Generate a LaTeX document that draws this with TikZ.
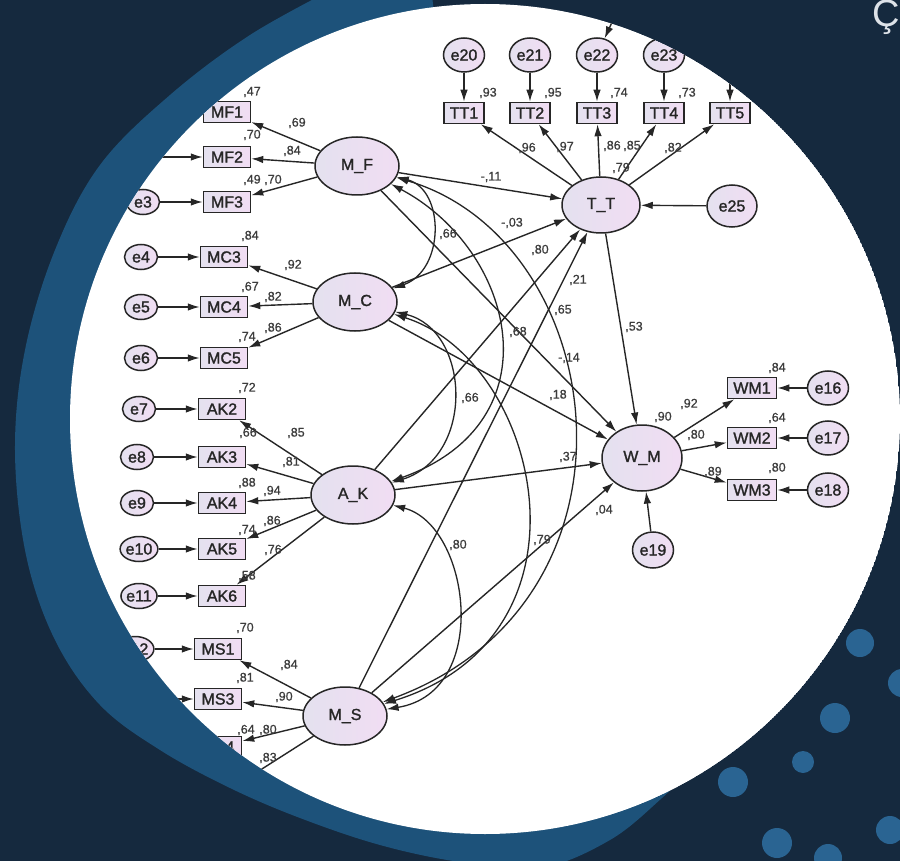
\documentclass[tikz,border=0pt]{standalone}
\usepackage{fontspec}
\setmainfont{Liberation Sans}
\newfontfamily\nodefont{Liberation Sans}[FakeBold=1.5]
\newfontfamily\numfont{Liberation Sans}[FakeBold=0.8]
\usetikzlibrary{shapes.geometric,arrows.meta}
\definecolor{navy}{HTML}{15293E}
\definecolor{cres}{HTML}{1D527A}
\definecolor{dotc}{HTML}{2A6492}
\definecolor{ink}{HTML}{262626}
\definecolor{numc}{HTML}{3C3C3C}
\definecolor{lavA}{HTML}{E4E1EF}
\definecolor{lavB}{HTML}{F1DDF3}
\definecolor{cedc}{HTML}{DDE2E8}
\tikzset{
 obs/.style={rectangle, draw=ink, line width=1.5pt, minimum width=47pt, minimum height=21pt, inner sep=0pt, left color=lavA, right color=lavB, text=ink, font=\nodefont\fontsize{16}{16}\selectfont},
 lat/.style={ellipse, draw=ink, line width=1.5pt, minimum width=84pt, minimum height=58pt, inner sep=0pt, left color=lavA, right color=lavB, text=ink, font=\nodefont\fontsize{16}{16}\selectfont},
 err/.style={ellipse, draw=ink, line width=1.5pt, minimum width=41pt, minimum height=34pt, inner sep=0pt, left color=lavA, right color=lavB, text=ink, font=\nodefont\fontsize{16}{16}\selectfont},
 errs/.style={err, minimum width=33pt, minimum height=25pt},
 num/.style={text=numc, font=\numfont\fontsize{12.5}{13}\selectfont, inner sep=0pt},
 arr/.style={draw=ink, line width=1.4pt, -{Latex[length=12pt,width=7.5pt]}},
 cov/.style={draw=ink, line width=1.3pt, {Latex[length=12pt,width=7.5pt]}-{Latex[length=12pt,width=7.5pt]}},
 dot/.style={fill=dotc}
}
\begin{document}
\begin{tikzpicture}[x=1pt,y=-1pt]
\useasboundingbox (0,0) rectangle (900,861);
\fill[navy] (0,0) rectangle (900,861);
% blue crescent (its inner part is covered by the white disc)
\fill[cres] plot[smooth, tension=0.6] coordinates {(335,-12) (250,35) (170,95) (100,165) (55,250) (25,350) (15,450) (26,555) (55,640) (100,705) (160,750) (230,788) (300,818) (380,845) (460,862) (540,868) (610,840) (662,798) (690,770)} -- (485,419) -- (430,-20) -- cycle;
\begin{scope}
\clip (485,419) circle[radius=415pt];
\fill[white] (485,419) circle[radius=415pt];

% hidden ends
\coordinate (e1) at (143,112);
\coordinate (e2) at (143,157);
\coordinate (e13) at (135,699);
\coordinate (e14) at (135,747);
\coordinate (e24) at (730,55);
\coordinate (MS5) at (218,797);
\coordinate (topc) at (635,-28);

% latent
\node[lat] (MF) at (357,166) {M\_F};
\node[lat] (MC) at (355,302) {M\_C};
\node[lat] (AK) at (353,495) {A\_K};
\node[lat] (MS) at (345,716) {M\_S};
\node[lat, minimum width=78pt, minimum height=56pt] (TT) at (601,205) {T\_T};
\node[lat, minimum width=80pt, minimum height=66pt] (WM) at (642,458) {W\_M};

% observed
\node[obs] (MF1) at (227,112) {MF1};
\node[obs] (MF2) at (227,157) {MF2};
\node[obs] (MF3) at (227,202) {MF3};
\node[obs] (MC3) at (224,257) {MC3};
\node[obs] (MC4) at (224,307) {MC4};
\node[obs] (MC5) at (224,358) {MC5};
\node[obs] (AK2) at (222,409) {AK2};
\node[obs] (AK3) at (222,457) {AK3};
\node[obs] (AK4) at (222,503) {AK4};
\node[obs] (AK5) at (222,549) {AK5};
\node[obs] (AK6) at (222,596) {AK6};
\node[obs] (MS1) at (218,649) {MS1};
\node[obs] (MS3) at (218,699) {MS3};
\node[obs] (MS4) at (218,747) {MS4};
\node[obs, minimum width=40pt] (TT1) at (464,113) {TT1};
\node[obs, minimum width=40pt] (TT2) at (530,113) {TT2};
\node[obs, minimum width=40pt] (TT3) at (597,113) {TT3};
\node[obs, minimum width=40pt] (TT4) at (664,113) {TT4};
\node[obs, minimum width=40pt] (TT5) at (730,113) {TT5};
\node[obs, minimum width=49pt] (WM1) at (752,388) {WM1};
\node[obs, minimum width=49pt] (WM2) at (752,438) {WM2};
\node[obs, minimum width=49pt] (WM3) at (752,490) {WM3};

% errors
\node[errs] (e3) at (143,202) {e3};
\node[errs] (e4) at (141,257) {e4};
\node[errs] (e5) at (141,307) {e5};
\node[errs] (e6) at (141,358) {e6};
\node[errs] (e7) at (139,409) {e7};
\node[errs] (e8) at (137,457) {e8};
\node[errs] (e9) at (137,503) {e9};
\node[errs] (e10) at (139,549) {e10};
\node[errs] (e11) at (139,596) {e11};
\node[errs] (e12) at (135,649) {e12};
\node[err] (e20) at (464,55) {e20};
\node[err] (e21) at (530,55) {e21};
\node[err] (e22) at (597,55) {e22};
\node[err] (e23) at (664,55) {e23};
\node[err, minimum width=50pt, minimum height=42pt] (e25) at (732,206) {e25};
\node[err] (e16) at (828,388) {e16};
\node[err] (e17) at (828,438) {e17};
\node[err] (e18) at (828,490) {e18};
\node[err, minimum height=36pt] (e19) at (653,550) {e19};

% error arrows
\draw[arr] (e1) -- (MF1);
\draw[arr] (e2) -- (MF2);
\draw[arr] (e3) -- (MF3);
\draw[arr] (e4) -- (MC3);
\draw[arr] (e5) -- (MC4);
\draw[arr] (e6) -- (MC5);
\draw[arr] (e7) -- (AK2);
\draw[arr] (e8) -- (AK3);
\draw[arr] (e9) -- (AK4);
\draw[arr] (e10) -- (AK5);
\draw[arr] (e11) -- (AK6);
\draw[arr] (e12) -- (MS1);
\draw[arr] (e13) -- (MS3);
\draw[arr] (e14) -- (MS4);
\draw[arr] (e20) -- (TT1);
\draw[arr] (e21) -- (TT2);
\draw[arr] (e22) -- (TT3);
\draw[arr] (e23) -- (TT4);
\draw[arr] (e24) -- (TT5);
\draw[arr] (topc) -- (e22);
\draw[arr] (e25) -- (TT);
\draw[arr] (e16) -- (WM1);
\draw[arr] (e17) -- (WM2);
\draw[arr] (e18) -- (WM3);
\draw[arr] (e19) -- (WM);

% loadings
\foreach \a/\b in {MF/MF1,MF/MF2,MF/MF3,MC/MC3,MC/MC4,MC/MC5,AK/AK2,AK/AK3,AK/AK4,AK/AK5,AK/AK6,MS/MS1,MS/MS3,MS/MS4,MS/MS5,TT/TT1,TT/TT2,TT/TT3,TT/TT4,TT/TT5,WM/WM1,WM/WM2,WM/WM3}
  \draw[arr] (\a) -- (\b);

% structural paths
\foreach \a in {MF,MC,AK,MS} {\draw[arr] (\a) -- (TT); \draw[arr] (\a) -- (WM);}
\draw[arr] (TT) -- (WM);

% covariances
\draw[cov] (MF) .. controls (445,190) and (445,270) .. (MC);
\draw[cov] (MF) .. controls (515,250) and (558,422) .. (AK);
\draw[cov] (MF) .. controls (610,240) and (660,600) .. (MS);
\draw[cov] (MC) .. controls (470,330) and (476,456) .. (AK);
\draw[cov] (MC) .. controls (540,360) and (605,635) .. (MS);
\draw[cov] (AK) .. controls (470,525) and (492,692) .. (MS);

% numbers
\foreach \p/\t in {
 {252,92}/{,47},{297,123}/{,69},{252,135}/{,70},{292,151}/{,84},{252,180}/{,49},{273,180}/{,70},
 {250,236}/{,84},{293,265}/{,92},{250,287}/{,67},{273,297}/{,82},{247,337}/{,74},{273,328}/{,86},
 {247,388}/{,72},{296,433}/{,85},{248,433}/{,66},{291,462}/{,81},{247,483}/{,88},{272,491}/{,94},
 {247,530}/{,74},{272,521}/{,86},{273,550}/{,76},{247,576}/{,58},{245,628}/{,70},
 {289,665}/{,84},{245,678}/{,81},{284,697}/{,90},{246,730}/{,64},{268,730}/{,80},{268,758}/{,83},
 {488,93}/{,93},{553,93}/{,95},{619,93}/{,74},{687,93}/{,73},
 {527,148}/{,96},{565,147}/{,97},{612,146}/{,86},{632,146}/{,85},{673,148}/{,82},{621,168}/{,79},
 {491,177}/{-,11},{512,223}/{-,03},{448,234}/{,66},{540,250}/{,80},{578,280}/{,21},{563,310}/{,65},
 {518,332}/{,68},{569,358}/{-,14},{558,395}/{,18},{470,398}/{,66},{568,457}/{,37},{634,327}/{,53},
 {604,510}/{,04},{458,545}/{,80},{542,540}/{,79},
 {777,368}/{,84},{689,404}/{,92},{663,417}/{,90},{777,418}/{,64},{696,435}/{,80},{713,472}/{,89},{777,468}/{,80}}
  \node[num] at (\p) {\t};
\end{scope}

% dots
\foreach \p/\r in {{860,643}/14,{835,718}/15,{803,762}/11,{733,782}/15,{777,843}/15,{828,858}/14,{890,830}/14,{902,683}/14}
  \fill[dot] (\p) circle[radius=\r pt];

\node[text=cedc, font=\fontsize{38}{38}\selectfont, anchor=base west, inner sep=0pt] (ced) at (872,27) {Ç};
\end{tikzpicture}
\end{document}
